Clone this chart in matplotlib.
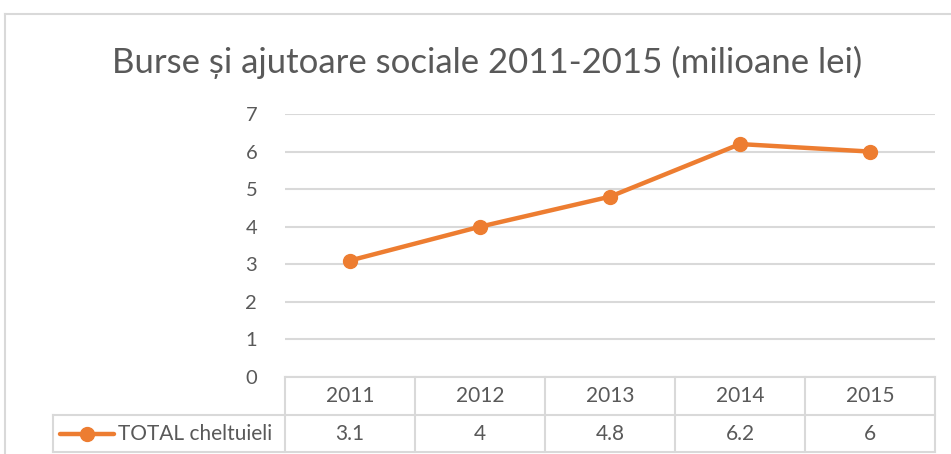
import matplotlib.pyplot as plt
from matplotlib.lines import Line2D
import matplotlib.transforms as mtrans

years = ["2011", "2012", "2013", "2014", "2015"]
values = [3.1, 4, 4.8, 6.2, 6]
value_labels = ["3.1", "4", "4.8", "6.2", "6"]
series_name = "TOTAL cheltuieli"
title = "Burse și ajutoare sociale 2011-2015 (milioane lei)"

orange = "#ED7D31"
grid = "#D9D9D9"
txt = "#595959"
plt.rcParams['font.family'] = ['Lato', 'DejaVu Sans']

W, H = 951, 454
fig = plt.figure(figsize=(W / 100, H / 100), dpi=100)
fig.patch.set_facecolor("white")

# plot area in pixels
left, right, top, bottom = 285, 935, 114, 377
ax = fig.add_axes([left / W, 1 - bottom / H, (right - left) / W, (bottom - top) / H])
x = list(range(len(years)))
ax.plot(x, values, color=orange, lw=3.2, marker="o", ms=10, zorder=3,
        solid_capstyle="round")
ax.set_xlim(-0.5, len(years) - 0.5)
ax.set_ylim(0, 7)
ax.set_yticks(range(0, 8))
ax.yaxis.grid(True, color=grid, lw=1.5)
ax.set_xticks([])
for s in ax.spines.values():
    s.set_visible(False)
ax.tick_params(axis="y", length=0, pad=20, labelsize=14.5, labelcolor=txt)

fig.text(487 / W, 1 - 62 / H, title, ha="center", va="center", fontsize=25, color=txt)

# data table under the axis
tr = mtrans.blended_transform_factory(ax.transData, ax.transAxes)
ph = bottom - top
row1 = -(415 - bottom) / ph
row2 = -(452 - bottom) / ph
leg_left = -0.5 + (53 - left) / ((right - left) / len(years))
lk = dict(color=grid, lw=1.5, transform=tr, clip_on=False)
ax.add_line(Line2D([-0.5, len(years) - 0.5], [0, 0], **lk))
ax.add_line(Line2D([leg_left, len(years) - 0.5], [row1, row1], **lk))
ax.add_line(Line2D([leg_left, len(years) - 0.5], [row2, row2], **lk))
ax.add_line(Line2D([leg_left, leg_left], [row1, row2], **lk))
for i in range(len(years) + 1):
    ax.add_line(Line2D([i - 0.5, i - 0.5], [0, row2], **lk))
for i, (yr, lab) in enumerate(zip(years, value_labels)):
    ax.text(i, row1 / 2, yr, transform=tr, ha="center", va="center", fontsize=15, color=txt)
    ax.text(i, (row1 + row2) / 2, lab, transform=tr, ha="center", va="center", fontsize=15, color=txt)
# legend key
ym = (row1 + row2) / 2
ax.add_line(Line2D([leg_left + 0.05, leg_left + 0.47], [ym, ym], color=orange, lw=3.2,
                   transform=tr, clip_on=False, solid_capstyle="round"))
ax.add_line(Line2D([leg_left + 0.26], [ym], color=orange, marker="o", ms=10,
                   transform=tr, clip_on=False))
ax.text(leg_left + 0.5, ym, series_name, transform=tr, ha="left", va="center",
        fontsize=15, color=txt)

# chart border
fig.add_artist(Line2D([5 / W, 5 / W], [0, 1 - 14 / H], color=grid, lw=1.5))
fig.add_artist(Line2D([5 / W, 1], [1 - 14 / H, 1 - 14 / H], color=grid, lw=1.5))

fig.savefig("out.png", dpi=100)
